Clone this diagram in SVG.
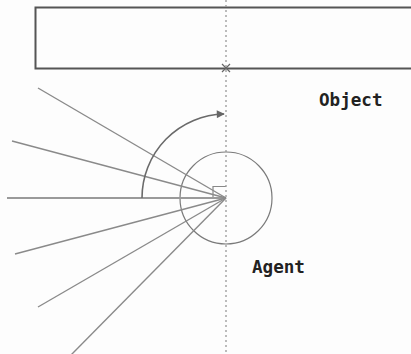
<svg xmlns="http://www.w3.org/2000/svg" width="411" height="354" viewBox="0 0 411 354">
<style>
.ray{stroke:#8a8a8a;stroke-width:1.4;fill:none}
.lbl{font-family:"DejaVu Sans Mono","Liberation Mono",monospace;font-weight:bold;font-size:17.6px;fill:#222}
</style>
<defs>
<marker id="ah" viewBox="0 0 10 10" refX="9" refY="5" markerWidth="10" markerHeight="8" markerUnits="userSpaceOnUse" orient="auto">
<path d="M0,0 L10,5 L0,10 z" fill="#666"/>
</marker>
</defs>
<rect width="411" height="354" fill="#fdfdfd"/>
<g id="object">
<rect x="35.5" y="7.5" width="380" height="61" fill="none" stroke="#555" stroke-width="2"/>
<path d="M222,64 L230,72 M230,64 L222,72" stroke="#666" stroke-width="1.2"/>
<text class="lbl" x="319" y="106">Object</text>
</g>
<g id="agent">
<circle cx="226" cy="198" r="46" fill="none" stroke="#7a7a7a" stroke-width="1.2"/>
<path d="M213,198 L213,186.5 L226,186.5" fill="none" stroke="#888" stroke-width="1.2"/>
<text class="lbl" x="252" y="273">Agent</text>
</g>
<g id="connectors">
<line x1="226" y1="0" x2="226" y2="354" stroke="#999" stroke-width="1.3" stroke-dasharray="2,3"/>
<line x1="7" y1="198" x2="226" y2="198" stroke="#9a9a9a" stroke-width="2.2"/>
<line class="ray" x1="226" y1="198" x2="38" y2="88"/>
<line class="ray" x1="226" y1="198" x2="12" y2="141"/>
<line class="ray" x1="226" y1="198" x2="15" y2="254"/>
<line class="ray" x1="226" y1="198" x2="38" y2="307"/>
<line class="ray" x1="226" y1="198" x2="71" y2="355"/>
<path d="M142,198 A84,84 0 0 1 224,114" fill="none" stroke="#6a6a6a" stroke-width="1.6" marker-end="url(#ah)"/>
</g>
</svg>
